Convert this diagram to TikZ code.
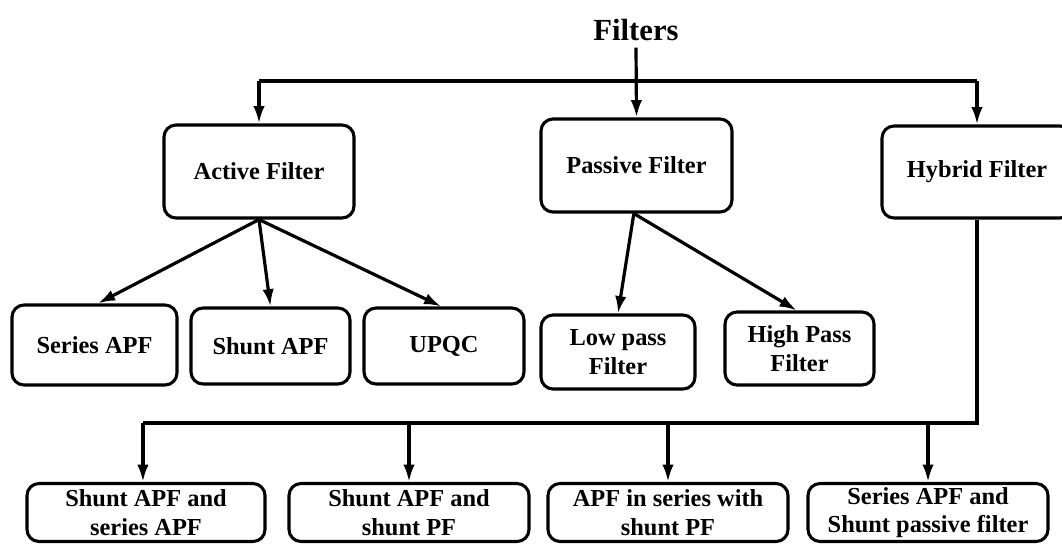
\documentclass[tikz,border=0pt]{standalone}
\usepackage{fontspec}
\setmainfont{Liberation Serif}
\usetikzlibrary{arrows.meta}
\begin{document}
\begin{tikzpicture}[x=0.75pt,y=-0.75pt,
  box/.style={draw, line width=2.3pt, rounded corners=9pt, align=center,
    font=\bfseries\fontsize{18.3}{21.3}\selectfont, inner sep=0pt},
  wh/.style 2 args={minimum width=#1*0.75pt, minimum height=#2*0.75pt},
  conn/.style={line width=2.4pt},
  arr/.style={conn, -{Latex[length=13pt,width=8.5pt]}}]
\useasboundingbox (0,0) rectangle (1062,544);
\clip (0,0) rectangle (1062,544);

% title
\node[font=\bfseries\fontsize{23}{27}\selectfont, inner sep=0pt] (filters) at (636,30) {Filters};

% level 1
\node[box, wh={190}{93}] (active)  at (259,171.5) {Active Filter};
\node[box, wh={191}{93}] (passive) at (636.5,165.5) {Passive Filter};
\node[box, wh={190}{92}] (hybrid)  at (977,172) {Hybrid Filter};

% level 2
\node[box, wh={165}{80}] (series) at (94.5,345) {Series APF};
\node[box, wh={159}{76}] (shunt)  at (270.5,346) {Shunt APF};
\node[box, wh={160}{76}] (upqc)   at (444,346) {UPQC};
\node[box, wh={154}{74}] (low)    at (618,352) {Low pass\\Filter};
\node[box, wh={149}{73}] (high)   at (799.5,348.5) {High Pass\\Filter};

% level 3
\node[box, wh={238}{58}] (h1) at (146,512.5) {Shunt APF and\\series APF};
\node[box, wh={240}{58}] (h2) at (409,512.5) {Shunt APF and\\shunt PF};
\node[box, wh={240}{58}] (h3) at (668,512.5) {APF in series with\\shunt PF};
\node[box, wh={240}{58}] (h4) at (928,512.5) {Series APF and\\Shunt passive filter};

% connectors from title
\coordinate (busT) at (636,81);
\draw[arr] ([yshift=-5pt]filters.south) -- (passive.north);
\draw[conn] (active.north |- busT) -- (hybrid.north |- busT);
\draw[arr] (active.north |- busT) -- (active.north);
\draw[arr] (hybrid.north |- busT) -- (hybrid.north);

% active filter children
\draw[arr] (active.south) -- ([xshift=2.5pt]series.north);
\draw[arr] (active.south) -- (shunt.north);
\draw[arr] (active.south) -- ([xshift=-2pt]upqc.north);

% passive filter children
\draw[arr] ([xshift=-2pt]passive.south) -- (low.north);
\draw[arr] ([xshift=-2pt]passive.south) -- ([xshift=-2pt]high.north);

% hybrid filter children
\coordinate (busB) at (977,423);
\draw[conn] (hybrid.south) -- (busB) -- ([xshift=-2.3pt]h1.north |- busB);
\draw[arr] ([xshift=-2.3pt]h1.north |- busB) -- ([xshift=-2.3pt]h1.north);
\draw[arr] (h2.north |- busB) -- (h2.north);
\draw[arr] (h3.north |- busB) -- (h3.north);
\draw[arr] (h4.north |- busB) -- (h4.north);
\end{tikzpicture}
\end{document}
